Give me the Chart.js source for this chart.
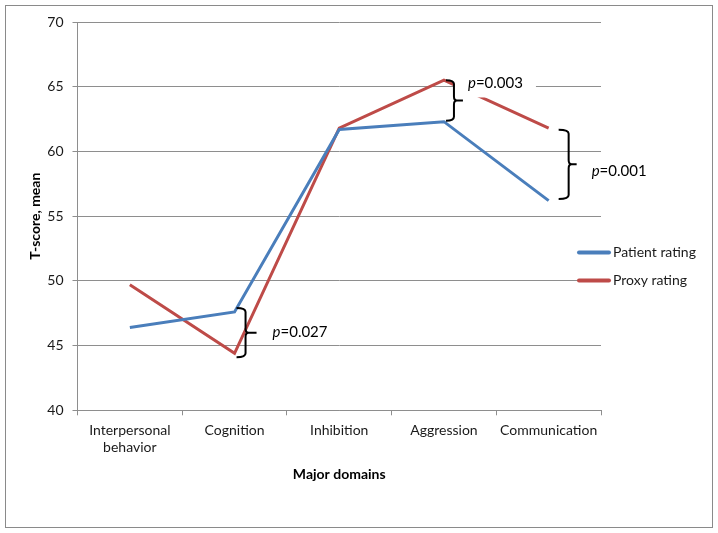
<!DOCTYPE html>
<html><head><meta charset="utf-8">
<script src="https://cdn.jsdelivr.net/npm/chart.js@4.4.0/dist/chart.umd.min.js"></script>
<style>html,body{margin:0;padding:0;background:#fff;}canvas{display:block}</style>
</head><body>
<canvas id="c" width="718" height="533"></canvas>
<script>
// ---- data ----
const categories = [["Interpersonal", "behavior"], "Cognition", "Inhibition", "Aggression", "Communication"];
const seriesNames = ["Patient rating", "Proxy rating"];
const patientRating = [46.4, 47.6, 61.7, 62.3, 56.2];
const proxyRating = [49.7, 44.4, 61.8, 65.5, 61.8];
const yTicks = [40, 45, 50, 55, 60, 65, 70];
const pCategories = [1, 3, 4];
const pLabels = ["0.027", "0.003", "0.001"];
const xTitle = "Major domains";
const yTitle = "T-score, mean";

// ---- styles ----
const FONT = "Lato, 'Open Sans', sans-serif";
const BLUE = "#4A7EBB";
const RED = "#BE4B48";
const GRID = "#8e8e8e";
// per-annotation pixel offsets relative to category / data position
const braceStyles = [
  {x0: 2, xv: 11, xt: 22, padTop: 4, padBot: 4, tipDy: 0, tx: 38, ty: 0, box: false},
  {x0: 2, xv: 10, xt: 19, padTop: 0, padBot: -1, tipDy: 0, tx: 24, ty: -17, box: true},
  {x0: 10, xv: 20, xt: 28, padTop: -1.5, padBot: -1.7, tipDy: 0, tx: 43, ty: 7, box: false}
];

const annotPlugin = {
  id: 'annot',
  afterDatasetsDraw(chart) {
    const ctx = chart.ctx;
    const xs = chart.scales.x, ys = chart.scales.y;
    ctx.save();
    pCategories.forEach((ci, i) => {
      const st = braceStyles[i];
      const cx = xs.getPixelForValue(ci);
      const hi = Math.max(patientRating[ci], proxyRating[ci]);
      const lo = Math.min(patientRating[ci], proxyRating[ci]);
      const yt = ys.getPixelForValue(hi) - st.padTop;
      const yb = ys.getPixelForValue(lo) + st.padBot;
      const ym = (yt + yb) / 2 + st.tipDy;
      const x0 = cx + st.x0, xv = cx + st.xv, xt = cx + st.xt;
      const tx = cx + st.tx, ty = ym + st.ty;
      if (st.box) {
        ctx.fillStyle = '#fff';
        ctx.fillRect(tx - 13, ty - 13, 81, 27);
      }
      // brace
      ctx.strokeStyle = '#000';
      ctx.lineWidth = 2;
      ctx.lineJoin = 'round';
      const r = 4;
      ctx.beginPath();
      ctx.moveTo(x0, yt);
      ctx.quadraticCurveTo(xv, yt, xv, yt + r);
      ctx.lineTo(xv, ym - r);
      ctx.quadraticCurveTo(xv, ym, xv + 3, ym);
      ctx.lineTo(xt, ym);
      ctx.moveTo(xv + 3, ym);
      ctx.quadraticCurveTo(xv, ym, xv, ym + r);
      ctx.lineTo(xv, yb - r);
      ctx.quadraticCurveTo(xv, yb, x0, yb);
      ctx.stroke();
      // text
      ctx.fillStyle = '#000';
      ctx.textBaseline = 'middle';
      ctx.textAlign = 'left';
      ctx.font = "italic 15px " + FONT;
      ctx.fillText('p', tx, ty);
      const w = ctx.measureText('p').width;
      ctx.font = "15px " + FONT;
      ctx.fillText('=' + pLabels[i], tx + w, ty);
    });
    ctx.restore();
  },
  afterDraw(chart) {
    const ctx = chart.ctx;
    ctx.save();
    // outer border
    ctx.strokeStyle = '#8a8a8a';
    ctx.lineWidth = 1;
    ctx.strokeRect(5.5, 5.5, 707, 522);
    // legend
    const midY = chart.height / 2;
    const rows = [midY - 14, midY + 14];
    chart.data.datasets.forEach((ds, i) => {
      const y = rows[i];
      ctx.strokeStyle = ds.borderColor;
      ctx.lineWidth = 4;
      ctx.lineCap = 'round';
      ctx.beginPath();
      ctx.moveTo(579, y);
      ctx.lineTo(609, y);
      ctx.stroke();
      ctx.fillStyle = '#1a1a1a';
      ctx.font = "14px " + FONT;
      ctx.textBaseline = 'middle';
      ctx.textAlign = 'left';
      ctx.fillText(ds.label, 613, y);
    });
    ctx.restore();
  }
};

new Chart(document.getElementById('c'), {
  type: 'line',
  data: {
    labels: categories,
    datasets: [
      {label: seriesNames[0], data: patientRating, borderColor: BLUE, backgroundColor: BLUE, borderWidth: 3, pointRadius: 0, tension: 0},
      {label: seriesNames[1], data: proxyRating, borderColor: RED, backgroundColor: RED, borderWidth: 3, pointRadius: 0, tension: 0}
    ]
  },
  options: {
    responsive: false,
    animation: false,
    devicePixelRatio: 1,
    layout: {padding: {left: 0, right: 117, top: 22, bottom: 0}},
    plugins: {legend: {display: false}, tooltip: {enabled: false}},
    scales: {
      x: {
        offset: true,
        grid: {drawOnChartArea: false, drawTicks: true, tickLength: 5, offset: true, color: GRID},
        border: {color: GRID, width: 1},
        ticks: {color: '#1a1a1a', font: {family: FONT, size: 14, lineHeight: 1.2}, padding: 7, maxRotation: 0, autoSkip: false},
        title: {display: true, text: xTitle, color: '#000', font: {family: FONT, size: 14, weight: 'bold'}, padding: {top: 0, bottom: 50}},
        afterFit(s) { s.height = 122.7; }
      },
      y: {
        min: yTicks[0], max: yTicks[yTicks.length - 1],
        afterBuildTicks(s) { s.ticks = yTicks.map(v => ({value: v})); },
        grid: {color: GRID, drawTicks: true, tickLength: 5},
        border: {color: GRID, width: 1},
        ticks: {color: '#1a1a1a', font: {family: FONT, size: 14}, padding: 9},
        title: {display: true, text: yTitle, color: '#000', font: {family: FONT, size: 14, weight: 'bold'}, padding: {top: 27, bottom: 0}},
        afterFit(s) { s.width = 77.5; }
      }
    }
  },
  plugins: [annotPlugin]
});
</script>
</body></html>
